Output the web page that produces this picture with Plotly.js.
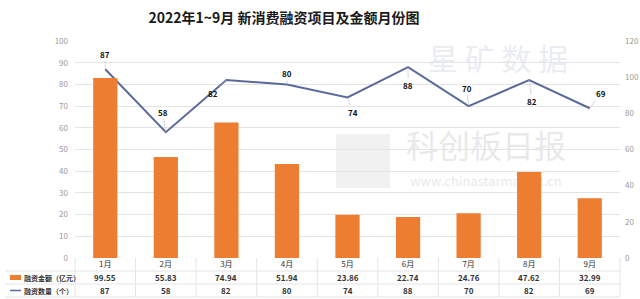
<!DOCTYPE html>
<html><head><meta charset="utf-8">
<script src="https://cdn.plot.ly/plotly-3.0.1.min.js"></script>
<style>html,body{margin:0;padding:0;background:#fff}#c{width:640px;height:299px}</style>
</head><body><div id="c"></div>
<script>
const months = ['1月','2月','3月','4月','5月','6月','7月','8月','9月'];
const amounts = [99.55, 55.83, 74.94, 51.94, 23.86, 22.74, 24.76, 47.62, 32.99];
const counts = [87, 58, 82, 80, 74, 88, 70, 82, 69];
const amountLabel = '融资金额（亿元）';
const countLabel = '融资数量（个）';
const titleText = '2022年1~9月 新消费融资项目及金额月份图';

const FONT = '"Noto Sans CJK SC", "Noto Sans", sans-serif';
const ORANGE = '#ED7D31';
const LINE = '#5B6A9A';
const GRID = '#E4E4E4';

const pl = 75, pw = 545, pt = 41, ph = 217;
const toPX = x => (x - pl) / pw;
const toPY = y => (pt + ph - y) / ph;

// label offsets (style only)
const lblOff = [[0,-15],[-3,-20],[-13,13],[0,-11],[5,15],[0,18],[-2,-18],[3,21],[11,-15]];

const annotations = [];
counts.forEach((v,i)=>{
  annotations.push({x:months[i], y:v, xref:'x', yref:'y', text:'<b>'+v+'</b>',
    showarrow:true, arrowhead:0, arrowwidth:0.6, arrowcolor:'#bbb',
    ax:lblOff[i][0], ay:lblOff[i][1], standoff:0,
    font:{family:FONT,size:8,color:'#111'}});
});
// table rows
const rowY = [toPY(277.5), toPY(290.5)];
amounts.forEach((v,i)=>{
  annotations.push({x:months[i], y:rowY[0], xref:'x', yref:'paper', text:'<b>'+v.toFixed(2)+'</b>',
    showarrow:false, yanchor:'middle', font:{family:FONT,size:8,color:'#333'}});
});
counts.forEach((v,i)=>{
  annotations.push({x:months[i], y:rowY[1], xref:'x', yref:'paper', text:'<b>'+v+'</b>',
    showarrow:false, yanchor:'middle', font:{family:FONT,size:8,color:'#333'}});
});
annotations.push({x:toPX(22), y:rowY[0], xref:'paper', yref:'paper', xanchor:'left', yanchor:'middle',
  text:'<b>'+amountLabel+'</b>', showarrow:false, font:{family:FONT,size:7,color:'#333'}});
annotations.push({x:toPX(22), y:rowY[1], xref:'paper', yref:'paper', xanchor:'left', yanchor:'middle',
  text:'<b>'+countLabel+'</b>', showarrow:false, font:{family:FONT,size:7,color:'#333'}});

const shapes = [];
// faint watermarks below the traces
function wm(cx, cy, w, h, text, size, color){
  shapes.push({type:'rect', layer:'below', xref:'paper', yref:'paper',
    x0:toPX(cx-w/2), x1:toPX(cx+w/2), y0:toPY(cy+h/2), y1:toPY(cy-h/2),
    fillcolor:'rgba(0,0,0,0)', line:{width:0},
    label:{text:text, textposition:'middle center', font:{family:FONT,size:size,color:color}}});
}
wm(498, 62, 160, 34, '星 矿 数 据', 30, 'rgba(215,220,230,0.55)');
wm(486, 149, 170, 36, '科创板日报', 32, 'rgba(215,215,215,0.55)');
wm(486, 182, 170, 16, 'www.chinastarmarket.cn', 13, 'rgba(215,215,215,0.6)');
shapes.push({type:'rect', layer:'below', xref:'paper', yref:'paper',
  x0:toPX(336), x1:toPX(390), y0:toPY(188), y1:toPY(134),
  fillcolor:'rgba(225,225,225,0.45)', line:{width:0}});

// horizontal table lines
[271, 284, 297].forEach(y=>{
  shapes.push({type:'line', xref:'paper', yref:'paper', x0:toPX(5), x1:1, y0:toPY(y), y1:toPY(y),
    line:{color:GRID,width:1}});
});
// vertical table lines
for(let k=0;k<=months.length;k++){
  shapes.push({type:'line', xref:'paper', yref:'paper', x0:k/months.length, x1:k/months.length,
    y0:toPY(258), y1:toPY(297), line:{color:GRID,width:1}});
}
// legend swatches
shapes.push({type:'rect', xref:'paper', yref:'paper', x0:toPX(10), x1:toPX(21),
  y0:toPY(280), y1:toPY(275), fillcolor:ORANGE, line:{width:0}});
shapes.push({type:'line', xref:'paper', yref:'paper', x0:toPX(10), x1:toPX(21),
  y0:toPY(290.5), y1:toPY(290.5), line:{color:LINE,width:1.5}});

const data = [
  {type:'bar', x:months, y:amounts, yaxis:'y2', name:amountLabel,
   marker:{color:ORANGE}, width:0.4, hoverinfo:'none'},
  {type:'scatter', mode:'lines', x:months, y:counts, yaxis:'y', name:countLabel,
   line:{color:LINE,width:2}, hoverinfo:'none'}
];

const layout = {
  width:640, height:299,
  margin:{l:75, r:20, t:41, b:41},
  paper_bgcolor:'#fff', plot_bgcolor:'rgba(0,0,0,0)',
  showlegend:false,
  title:{text:'<b>'+titleText+'</b>', xref:'container', x:284/640, xanchor:'center', y:1-18/299, yanchor:'middle',
    font:{family:FONT,size:14,color:'#1a1a1a'}},
  xaxis:{type:'category', showgrid:false, zeroline:false, showline:false, ticks:'',
    tickfont:{family:FONT,size:8,color:'#333'}, ticklabelstandoff:0},
  yaxis:{range:[0,100], dtick:10, showgrid:true, gridcolor:GRID, zeroline:false,
    tickfont:{family:FONT,size:8,color:'#999'}, ticks:'', ticklabelstandoff:6},
  yaxis2:{range:[0,120], dtick:20, overlaying:'y', side:'right', showgrid:false, zeroline:false,
    tickfont:{family:FONT,size:8,color:'#999'}, ticks:'', ticklabelstandoff:4},
  annotations, shapes,
  font:{family:FONT}
};
Plotly.newPlot('c', data, layout, {displayModeBar:false, staticPlot:true});
</script></body></html>
